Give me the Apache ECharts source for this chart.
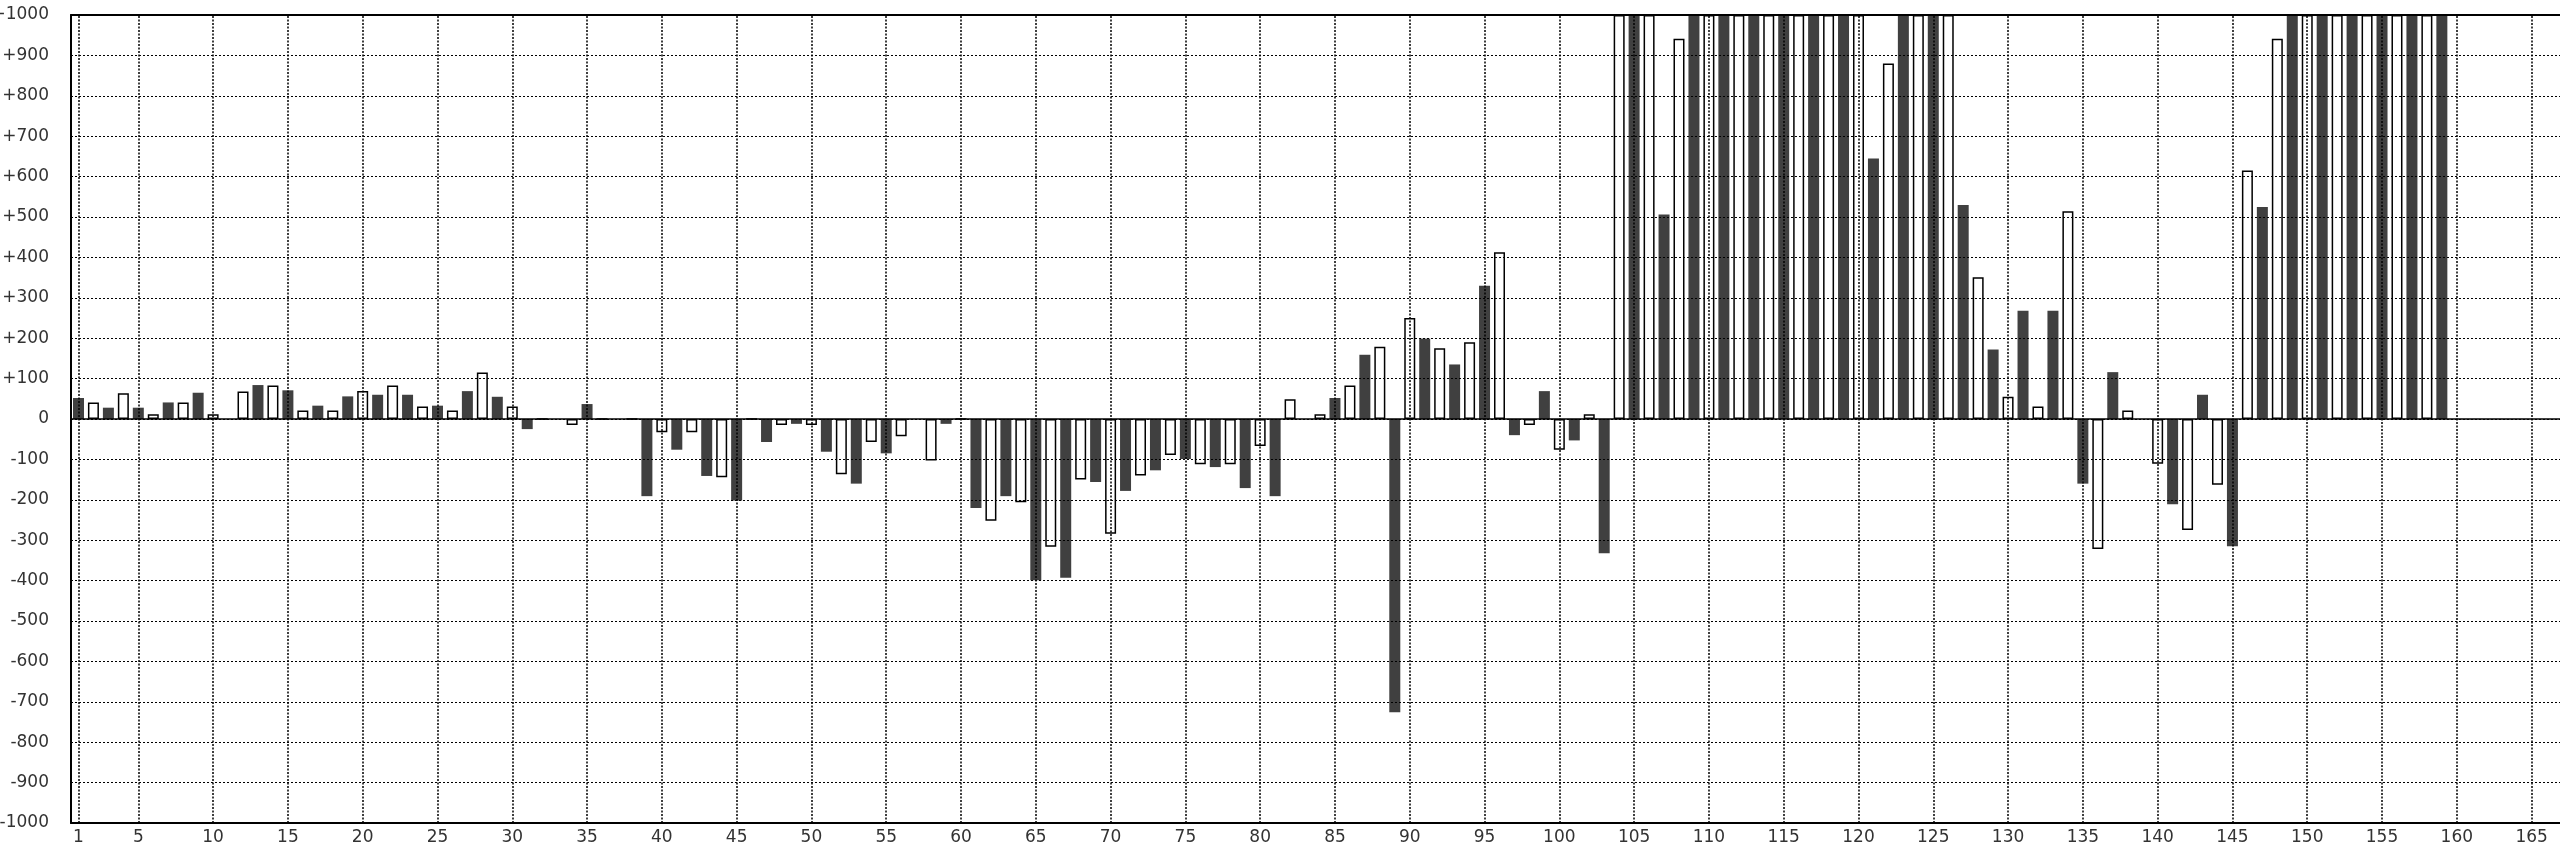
<!DOCTYPE html>
<html><head><meta charset="utf-8">
<script src="https://cdn.jsdelivr.net/npm/echarts@6/dist/echarts.min.js"></script>
<style>html,body{margin:0;padding:0;background:#fff}#c{width:2560px;height:843px}</style>
</head><body><div id="c"></div>
<script>
// Game numbers 1..167 on the category axis
const categories = [];
for (let i = 1; i <= 167; i++) categories.push(String(i));

// Bar values; bars above +1000 are clipped at the top
const values = [
  52, 41, 28, 64, 28, 12, 41, 41, 65, 12,
  0, 68, 84, 83, 71, 21, 33, 21, 56, 69,
  60, 83, 60, 31, 33, 21, 69, 115, 55, 31,
  -25, 0, 0, -15, 37, 0, 0, 0, -191, -33,
  -76, -33, -141, -144, -202, 0, -57, -15, -12, -15,
  -81, -137, -160, -57, -85, -43, 0, -103, -12, 0,
  -220, -252, -191, -206, -399, -316, -393, -150, -156, -284,
  -178, -140, -127, -89, -99, -112, -119, -112, -171, -67,
  -191, 49, 0, 12, 52, 83, 159, 179, -726, 250,
  199, 175, 135, 190, 330, 413, -40, -15, 69, -76,
  -53, 12, -332, 1000, 1000, 1000, 506, 941, 1000, 1000,
  1000, 1000, 1000, 1000, 1000, 1000, 1000, 1000, 1000, 1000,
  645, 880, 1000, 1000, 1000, 1000, 530, 351, 172, 55,
  268, 31, 268, 514, -160, -322, 116, 21, 0, -111,
  -211, -275, 60, -163, -315, 615, 525, 941, 1000, 1000,
  1000, 1000, 1000, 1000, 1000, 1000, 1000, 1000, 1000
];

// Labelled / gridded categories
const xTickLabels = ['1','5','10','15','20','25','30','35','40','45','50','55','60','65','70','75','80','85','90','95','100','105','110','115','120','125','130','135','140','145','150','155','160','165'];

const yMin = -1000, yMax = 1000, yStep = 100;

const DARK = '#404040';
const labelSet = new Set(xTickLabels);
const barData = categories.map((c, i) => {
  const v = i < values.length ? values[i] : null;
  const odd = (i % 2 === 0);
  return {
    value: v,
    itemStyle: odd ? { color: DARK, borderWidth: 0 } : { color: '#ffffff', borderColor: '#000', borderWidth: 1.5 }
  };
});
const nulls = categories.map(() => null);

const chart = echarts.init(document.getElementById('c'), null, { renderer: 'canvas' });
const fontCommon = { fontFamily: 'DejaVu Sans', fontSize: 17, color: '#333' };

chart.setOption({
  animation: false,
  backgroundColor: '#ffffff',
  grid: { left: 71, top: 15, width: 2498, height: 808, containLabel: false, outerBoundsMode: 'none', show: false },
  xAxis: [
    {
      type: 'category', data: categories, position: 'bottom', boundaryGap: true, z: 10,
      axisLine: { show: true, onZero: false, lineStyle: { color: '#000', width: 2 } },
      axisTick: { show: false },
      splitLine: { show: false },
      axisLabel: Object.assign({ interval: (i, v) => labelSet.has(v), margin: 6 }, fontCommon)
    },
    {
      type: 'category', data: categories, position: 'top', boundaryGap: true, z: 10,
      axisLine: { show: true, onZero: false, lineStyle: { color: '#000', width: 2 } },
      axisTick: { show: false }, axisLabel: { show: false }, splitLine: { show: false }
    }
  ],
  yAxis: {
    type: 'value', min: yMin, max: yMax, interval: yStep, z: 10,
    axisLine: { show: true, onZero: false, lineStyle: { color: '#000', width: 2 } },
    axisTick: { show: false },
    splitLine: { show: true, lineStyle: { color: '#000', type: [2, 2], width: 1 } },
    axisLabel: Object.assign({ margin: 22, formatter: v => (v > 0 ? '+' + v : String(v)) }, fontCommon)
  },
  series: [
    {
      type: 'line', data: nulls, z: 1, silent: true, symbol: 'none',
      markLine: {
        silent: true, symbol: ['none', 'none'], label: { show: false }, animation: false,
        lineStyle: { color: '#000', type: [2, 1.5], width: 1.5 },
        data: xTickLabels.map(c => ({ xAxis: c }))
      }
    },
    {
      type: 'bar', data: barData, barWidth: 11, z: 2, clip: true, silent: true
    },
    {
      type: 'line', data: nulls, z: 3, silent: true, symbol: 'none',
      markLine: {
        silent: true, symbol: ['none', 'none'], label: { show: false }, animation: false,
        lineStyle: { color: '#000', type: 'solid', width: 1.5 },
        data: [{ yAxis: 0 }]
      }
    }
  ]
});
</script>
</body></html>
